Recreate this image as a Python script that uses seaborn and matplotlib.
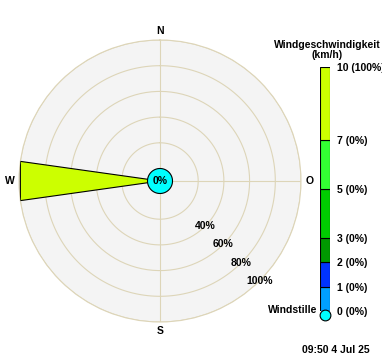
import numpy as np
import matplotlib
matplotlib.use("Agg")
import matplotlib.pyplot as plt
import seaborn as sns

# data
directions = ["W"]
dir_deg = [270.0]
dir_pct = [100.0]
calm_pct = 0
ring_pct = [20, 40, 60, 80, 100]
ring_labels = ["", "40%", "60%", "80%", "100%"]
speed_bounds = [0, 1, 2, 3, 5, 7, 10]
speed_tick_pct = [0, 0, 0, 0, 0, 0, 100]
speed_colors = ["#00a0ff", "#0033ff", "#009900", "#00cc00", "#33ff33", "#ccff00"]
compass = ["N", "O", "S", "W"]
compass_deg = [0, 90, 180, 270]
stamp = "09:50 4 Jul 25"

sns.set_theme(style="white")
plt.rcParams['font.family'] = ['Liberation Sans', 'DejaVu Sans']
plt.rcParams['font.weight'] = 'bold'
plt.rcParams['text.color'] = 'black'
plt.rcParams['ytick.color'] = 'black'
fs = 7.5
grid_c = "#ddd5b8"

fig = plt.figure(figsize=(3.82, 3.61), dpi=100)
fig.patch.set_facecolor("white")

W, H = 382, 361
cx, cy, R = 160, 181, 141
ax = fig.add_axes([(cx - R) / W, (H - cy - R) / H, 2 * R / W, 2 * R / H], projection="polar")
ax.set_theta_zero_location("N")
ax.set_theta_direction(-1)
ax.set_facecolor("#f4f4f4")

off = 12.5 / (R - 12.5) * 100  # radius of calm circle in % units
ax.set_ylim(0, 100 + off)
ax.set_yticks([])
ax.set_xticks([])
ax.grid(False)
ax.spines["polar"].set_color(grid_c)
ax.spines["polar"].set_linewidth(0.8)

th = np.linspace(0, 2 * np.pi, 200)
for p, lab in zip(ring_pct, ring_labels):
    ax.plot(th, np.full_like(th, off + p), color=grid_c, lw=0.8, zorder=1)
    if lab:
        ax.text(np.deg2rad(135), off + p, lab, ha="center", va="center", fontsize=fs,
                fontweight="bold", zorder=3)
for d in compass_deg:
    ax.plot([np.deg2rad(d)] * 2, [off, 100 + off], color=grid_c, lw=0.8, zorder=1)

# compass letters
for lab, d in zip(compass, compass_deg):
    ax.text(np.deg2rad(d), 100 + off + 7, lab, ha="center", va="center", fontsize=fs,
            fontweight="bold", clip_on=False)

# wedges
half = np.deg2rad(8)
for d, p in zip(dir_deg, dir_pct):
    t = np.deg2rad(d)
    ax.fill([t, t - half, t + half], [0, off + p, off + p], facecolor=speed_colors[-1],
            edgecolor="black", lw=0.8, zorder=4)

# calm circle
ax.fill(th, np.full_like(th, off), facecolor="#00ffff", edgecolor="black", lw=0.8, zorder=5)
ax.text(0, 0, f"{calm_pct}%", ha="center", va="center", fontsize=fs, fontweight="bold", zorder=6)

# colour bar
cb = fig.add_axes([320 / W, (H - 311) / H, 10 / W, 244 / H])
for lo, hi, c in zip(speed_bounds[:-1], speed_bounds[1:], speed_colors):
    cb.bar(0, hi - lo, bottom=lo, width=1, color=c, edgecolor="black", lw=0.8)
cb.set_xlim(-0.5, 0.5)
cb.set_ylim(0, 10)
cb.set_xticks([])
cb.set_yticks(speed_bounds)
cb.set_yticklabels([f"{b} ({p}%)" for b, p in zip(speed_bounds, speed_tick_pct)],
                   fontsize=fs, fontweight="bold")
cb.yaxis.tick_right()
cb.tick_params(axis="y", length=0, pad=5, labelcolor="black")
for s in cb.spines.values():
    s.set_visible(False)
cb.scatter([0], [-0.15], s=60, color="#00ffff", edgecolor="black", lw=0.8, zorder=5, clip_on=False)
cb.text(-0.75, 0.05, "Windstille", ha="right", va="center", fontsize=fs, fontweight="bold")

fig.text(327 / W, 1 - 50 / H, "Windgeschwindigkeit\n(km/h)", ha="center", va="center",
         fontsize=fs, fontweight="bold", linespacing=1.1)
fig.text(336 / W, 1 - 350 / H, stamp, ha="center", va="center", fontsize=fs, fontweight="bold")

fig.savefig("out.png", dpi=100)
